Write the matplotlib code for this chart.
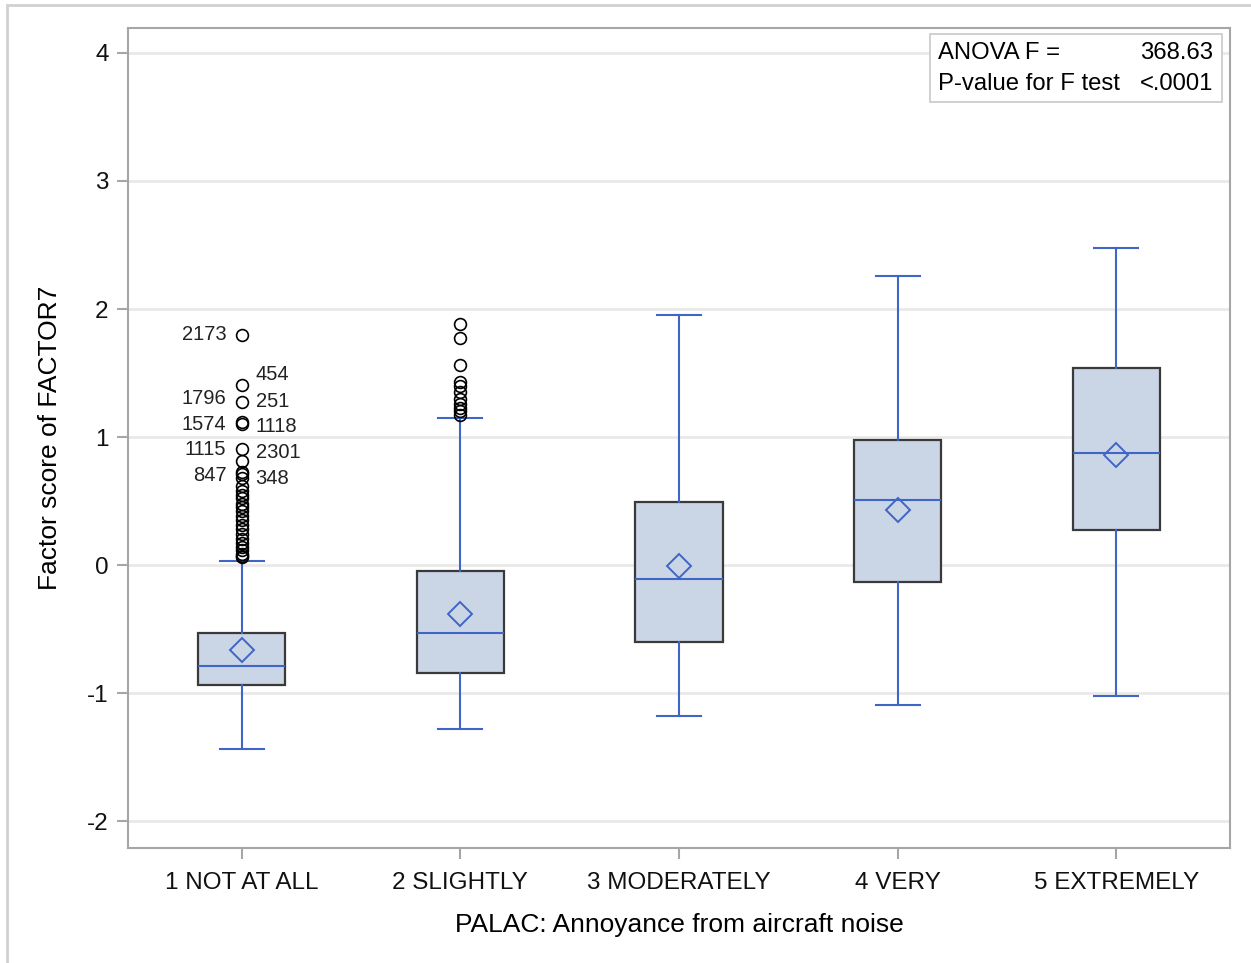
import matplotlib
matplotlib.use("Agg")
import matplotlib.pyplot as plt
from matplotlib.patches import Rectangle

plt.rcParams['font.family'] = ['Liberation Sans', 'DejaVu Sans']
plt.rcParams['axes.unicode_minus'] = False

# categories and box statistics
categories = ["1 NOT AT ALL", "2 SLIGHTLY", "3 MODERATELY", "4 VERY", "5 EXTREMELY"]
whis_lo = [-1.44, -1.28, -1.18, -1.09, -1.02]
q1 = [-0.94, -0.84, -0.60, -0.13, 0.27]
medians = [-0.79, -0.53, -0.11, 0.51, 0.875]
q3 = [-0.53, -0.05, 0.49, 0.98, 1.54]
whis_hi = [0.03, 1.15, 1.95, 2.26, 2.48]
means = [-0.66, -0.38, -0.01, 0.43, 0.86]

outliers_1 = [1.80, 1.41, 1.27, 1.12, 1.10, 0.91, 0.81, 0.73, 0.71, 0.68, 0.62,
              0.58, 0.55, 0.52, 0.48, 0.45, 0.42, 0.38, 0.35, 0.31, 0.28, 0.24,
              0.20, 0.17, 0.14, 0.12, 0.09, 0.07, 0.06]
outliers_2 = [1.88, 1.77, 1.56, 1.43, 1.40, 1.35, 1.30, 1.26, 1.23, 1.20, 1.17]
outliers = [outliers_1, outliers_2, [], [], []]

# outlier ids (group 1), value they sit at, and side of label
out_ids = ["2173", "454", "1796", "251", "1574", "1118", "1115", "2301", "847", "348"]
out_id_y = [1.80, 1.49, 1.30, 1.28, 1.10, 1.08, 0.90, 0.88, 0.70, 0.68]
out_id_side = ["L", "R", "L", "R", "L", "R", "L", "R", "L", "R"]

anova_f = "368.63"
p_value = "<.0001"

blue = "#3F66C6"
box_face = "#CAD5E6"
box_edge = "#3A3A3A"
grid_c = "#E9E9E9"
spine_c = "#A6A6A6"

fig = plt.figure(figsize=(12.51, 9.63), dpi=100)
ax = fig.add_axes([128 / 1251, 1 - 848 / 963, (1230 - 128) / 1251, (848 - 28) / 963])

stats = []
for i in range(len(categories)):
    stats.append(dict(med=medians[i], q1=q1[i], q3=q3[i], whislo=whis_lo[i],
                      whishi=whis_hi[i], mean=means[i], fliers=outliers[i]))

ax.bxp(stats, positions=range(len(categories)), widths=0.4, patch_artist=True,
       showmeans=True, showfliers=True,
       boxprops=dict(facecolor=box_face, edgecolor=box_edge, linewidth=1.6),
       whiskerprops=dict(color=blue, linewidth=1.5),
       capprops=dict(color=blue, linewidth=1.5),
       capwidths=0.2,
       medianprops=dict(color=blue, linewidth=1.5),
       meanprops=dict(marker='D', markersize=12, markerfacecolor='none',
                      markeredgecolor=blue, markeredgewidth=1.4),
       flierprops=dict(marker='o', markersize=8.5, markerfacecolor='none',
                       markeredgecolor='black', markeredgewidth=1.2),
       zorder=3)

for lab, yv, side in zip(out_ids, out_id_y, out_id_side):
    if side == "L":
        ax.annotate(lab, (0, yv), xytext=(-11, 0), textcoords='offset points',
                    ha='right', va='center', fontsize=14.5, color='#222222')
    else:
        ax.annotate(lab, (0, yv), xytext=(10, 0), textcoords='offset points',
                    ha='left', va='center', fontsize=14.5, color='#222222')

ax.set_xlim(-0.52, 4.52)
ax.set_ylim(-2.21, 4.195)
ax.set_yticks([-2, -1, 0, 1, 2, 3, 4])
ax.set_xticks(range(len(categories)))
ax.set_xticklabels(categories)
ax.yaxis.grid(True, color=grid_c, linewidth=2)
ax.set_axisbelow(True)

for s in ax.spines.values():
    s.set_color(spine_c)
    s.set_linewidth(1.5)
ax.tick_params(axis='both', length=8, width=1.5, color=spine_c, labelsize=17.5,
               labelcolor='#111111', pad=6)
ax.tick_params(axis='x', pad=9)

ax.set_xlabel("PALAC: Annoyance from aircraft noise", fontsize=19, labelpad=14)
ax.set_ylabel("Factor score of FACTOR7", fontsize=19, labelpad=18)

# stats inset box
ax.add_patch(Rectangle((930 / 1251, 1 - 102 / 963), 292 / 1251, 68 / 963,
                       transform=fig.transFigure, facecolor='white',
                       edgecolor='#C8C8C8', linewidth=1.2, zorder=5))
fig.text(938 / 1251, 1 - 53 / 963, "ANOVA F =", fontsize=17.2, va='center', ha='left', zorder=6)
fig.text(1213 / 1251, 1 - 53 / 963, anova_f, fontsize=17.2, va='center', ha='right', zorder=6)
fig.text(938 / 1251, 1 - 84 / 963, "P-value for F test", fontsize=17.2, va='center', ha='left', zorder=6)
fig.text(1213 / 1251, 1 - 84 / 963, p_value, fontsize=17.2, va='center', ha='right', zorder=6)

# outer frame of the graph
fig.patches.append(Rectangle((7 / 1251, -0.1), 1.2, 1 - 5 / 963 + 0.1,
                             transform=fig.transFigure, facecolor='none',
                             edgecolor='#D0D0D0', linewidth=2))

fig.savefig("out.png", dpi=100)
